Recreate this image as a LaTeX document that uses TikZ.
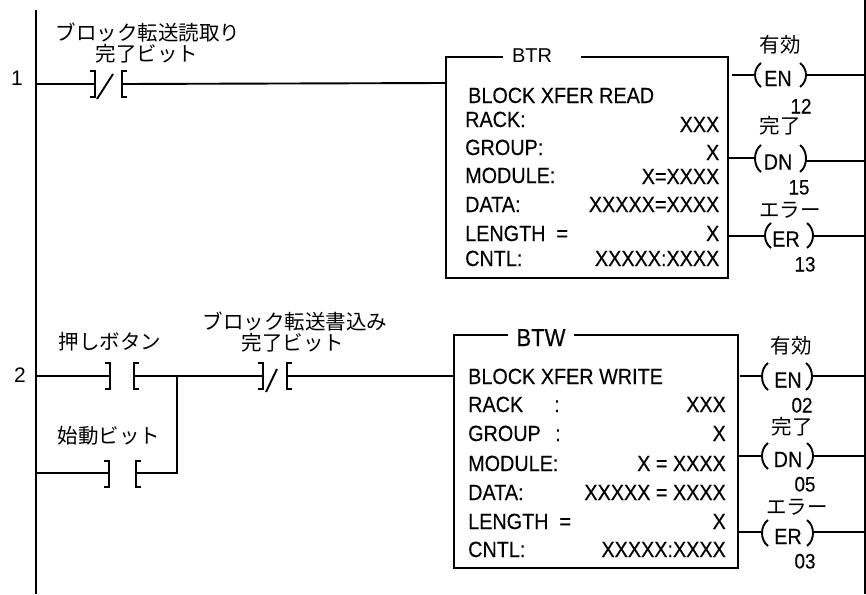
\documentclass[tikz,border=0pt]{standalone}
\usepackage{fontspec}
\setmainfont{Liberation Sans}
\newfontfamily\narrowf[FakeStretch=0.9,FakeBold=0.25]{Liberation Sans}
\newfontfamily\jpf{Noto Sans CJK JP}
\tikzset{
  wire/.style={line width=1.9pt,line cap=butt,line join=miter},
  lbl/.style={inner sep=0pt,text height=16pt,text depth=0pt,font=\narrowf\fontsize{22}{22}\selectfont},
  lftlbl/.style={lbl,anchor=west},
  rgtlbl/.style={lbl,anchor=east},
  ctrlbl/.style={lbl,anchor=center},
  titlelbl/.style={inner sep=0pt,text height=18pt,text depth=0pt,anchor=center,font=\narrowf\fontsize{24.5}{24.5}\selectfont},
  smalltitle/.style={inner sep=0pt,text height=14.5pt,text depth=0pt,anchor=center,font=\fontsize{20}{20}\selectfont},
  jp/.style={inner sep=0pt,anchor=center,font=\jpf\fontsize{20.5}{20.5}\selectfont},
  rungno/.style={inner sep=0pt,anchor=center,font=\fontsize{21}{21}\selectfont},
  posno/.style={inner sep=0pt,text height=15pt,text depth=0pt,anchor=center,font=\narrowf\fontsize{21}{21}\selectfont},
}
\newcommand{\contactno}[4]{% name, left bracket x, right bracket x, y
  \coordinate (#1l) at (#2,#4);
  \coordinate (#1r) at (#3,#4);
  \draw[wire] (#2-5,#4-13) -- (#2,#4-13) -- (#2,#4+13) -- (#2-5,#4+13);
  \draw[wire] (#3+5,#4-13) -- (#3,#4-13) -- (#3,#4+13) -- (#3+5,#4+13);
}
\newcommand{\coil}[7]{% name, left x, right x, y top, y bottom, text x, text
  \coordinate (#1l) at (#2,{(#4+#5)/2});
  \coordinate (#1r) at (#3,{(#4+#5)/2});
  \draw[wire] (#2+6,#4) .. controls (#2-2,#4+6) and (#2-2,#5-6) .. (#2+6,#5);
  \draw[wire] (#3-6,#4) .. controls (#3+2,#4+6) and (#3+2,#5-6) .. (#3-6,#5);
  \node[ctrlbl] (#1t) at (#6,{(#4+#5)/2+3}) {#7};
}
\begin{document}
\begin{tikzpicture}[x=1pt,y=-1pt]
\useasboundingbox (0,0) rectangle (866,594);
% rails
\coordinate (railTop) at (36,10);
\coordinate (railBot) at (36,594);
\coordinate (rightTop) at (865,0);
\coordinate (rightBot) at (865,594);
\draw[wire,line width=2.2pt] (railTop) -- (railBot);
\draw[wire,line width=2.2pt] (rightTop) -- (rightBot);
\coordinate (r1) at (36,84);
\coordinate (r2) at (36,376);
\coordinate (r3) at (36,473);
\node[rungno] (n1) at (17,78) {1};
\node[rungno] (n2) at (20,375) {2};
% rung 1 contact
\contactno{c1}{95}{122}{84}
\draw[wire] (97,99) -- (113,74);
\node[jp] (t1a) at (148,33) {ブロック転送読取り};
\node[jp] (t1b) at (147,54) {完了ビット};
% BTR box
\coordinate (b1in) at (446,83);
\draw[wire] (r1) -- (c1l);
\draw[wire] (c1r) -- (b1in);
\draw[wire] (503,57) -- (446,57) -- (446,278) -- (728,278) -- (728,57) -- (581,57);
\node[smalltitle] (btr) at (532,55) {BTR};
\node[lftlbl] (a0) at (468,95) {BLOCK XFER READ};
\node[lftlbl] (a1) at (465,119) {RACK:};
\node[rgtlbl] (v1) at (719.5,124) {XXX};
\node[lftlbl] (a2) at (465,147) {GROUP:};
\node[rgtlbl] (v2) at (719.5,152) {X};
\node[lftlbl] (a3) at (465,175) {MODULE:};
\node[rgtlbl] (v3) at (719.5,176) {X=XXXX};
\node[lftlbl] (a4) at (465,204) {DATA:};
\node[rgtlbl] (v4) at (719.5,204) {XXXXX=XXXX};
\node[lftlbl] (a5) at (465,233) {LENGTH\ \ =};
\node[rgtlbl] (v5) at (719.5,233) {X};
\node[lftlbl] (a6) at (465,258) {CNTL:};
\node[rgtlbl] (v6) at (719.5,258) {XXXXX:XXXX};
% BTR coils
\coil{e1}{755}{806}{63}{87}{778}{EN}
\coil{d1}{755}{806}{145}{172}{778}{DN}
\coil{f1}{765}{813}{223}{248}{786}{ER}
\coordinate (e1a) at (732,75);
\coordinate (e1b) at (865,75);
\coordinate (d1a) at (728,158);
\coordinate (d1b) at (865,161);
\coordinate (f1a) at (728,236);
\coordinate (f1b) at (865,236);
\draw[wire] (e1a) -- (e1l |- e1a);
\draw[wire] (e1r |- e1b) -- (e1b);
\draw[wire] (d1a) -- (d1l |- d1a);
\draw[wire] (d1r |- d1b) -- (d1b);
\draw[wire] (f1a) -- (f1l |- f1a);
\draw[wire] (f1r |- f1b) -- (f1b);
\node[jp] (l1) at (780,45) {有効};
\node[posno] (p1) at (801,106) {12};
\node[jp] (l2) at (780,126) {完了};
\node[posno] (p2) at (799,187) {15};
\node[jp] (l3) at (790,210) {エラー};
\node[posno] (p3) at (805,264) {13};
% rung 2 contacts
\contactno{c2}{110}{134}{376}
\contactno{c3}{109}{136}{474}
\contactno{c4}{263}{287}{376}
\draw[wire] (266,392) -- (277,369);
\coordinate (j) at (177,376);
\coordinate (j2) at (177,473);
\coordinate (b2in) at (454,376);
\draw[wire] (r2) -- (c2l);
\draw[wire] (c2r) -- (c4l);
\draw[wire] (c4r) -- (b2in);
\draw[wire] (r3) -- (c3l |- r3);
\draw[wire] (c3r |- j2) -- (j2) -- (j);
\node[jp] (t2) at (110,342) {押しボタン};
\node[jp] (t3) at (109,436) {始動ビット};
\node[jp] (t4a) at (295,322) {ブロック転送書込み};
\node[jp] (t4b) at (293,343) {完了ビット};
% BTW box
\draw[wire] (508,335) -- (454,335) -- (454,568) -- (738,568) -- (738,335) -- (574,335);
\node[titlelbl] (btw) at (541,337) {BTW};
\node[lftlbl] (w0) at (468,376) {BLOCK XFER WRITE};
\node[lftlbl] (w1) at (468,404) {RACK};
\node[lbl] (wc1) at (557,404) {:};
\node[rgtlbl] (x1) at (726,404) {XXX};
\node[lftlbl] (w2) at (468,433) {GROUP};
\node[lbl] (wc2) at (558,433) {:};
\node[rgtlbl] (x2) at (726,433) {X};
\node[lftlbl] (w3) at (468,463) {MODULE:};
\node[rgtlbl] (x3) at (726,463) {X = XXXX};
\node[lftlbl] (w4) at (468,492) {DATA:};
\node[rgtlbl] (x4) at (726,492) {XXXXX = XXXX};
\node[lftlbl] (w5) at (468,521) {LENGTH\ \ =};
\node[rgtlbl] (x5) at (726,521) {X};
\node[lftlbl] (w6) at (468,549) {CNTL:};
\node[rgtlbl] (x6) at (726,549) {XXXXX:XXXX};
% BTW coils
\coil{e2}{762}{812}{363}{390}{788}{EN}
\coil{d2}{762}{813}{443}{469}{788}{DN}
\coil{f2}{762}{813}{520}{546}{788}{ER}
\coordinate (e2a) at (740,376);
\coordinate (e2b) at (865,376);
\coordinate (d2a) at (738,456);
\coordinate (d2b) at (865,456);
\coordinate (f2a) at (738,532);
\coordinate (f2b) at (865,532);
\draw[wire] (e2a) -- (e2l |- e2a);
\draw[wire] (e2r |- e2b) -- (e2b);
\draw[wire] (d2a) -- (d2l |- d2a);
\draw[wire] (d2r |- d2b) -- (d2b);
\draw[wire] (f2a) -- (f2l |- f2a);
\draw[wire] (f2r |- f2b) -- (f2b);
\node[jp] (m1) at (791,346) {有効};
\node[posno] (q1) at (802,405) {02};
\node[jp] (m2) at (792,427) {完了};
\node[posno] (q2) at (805,484) {05};
\node[jp] (m3) at (797,507) {エラー};
\node[posno] (q3) at (805,561) {03};
\end{tikzpicture}
\end{document}
